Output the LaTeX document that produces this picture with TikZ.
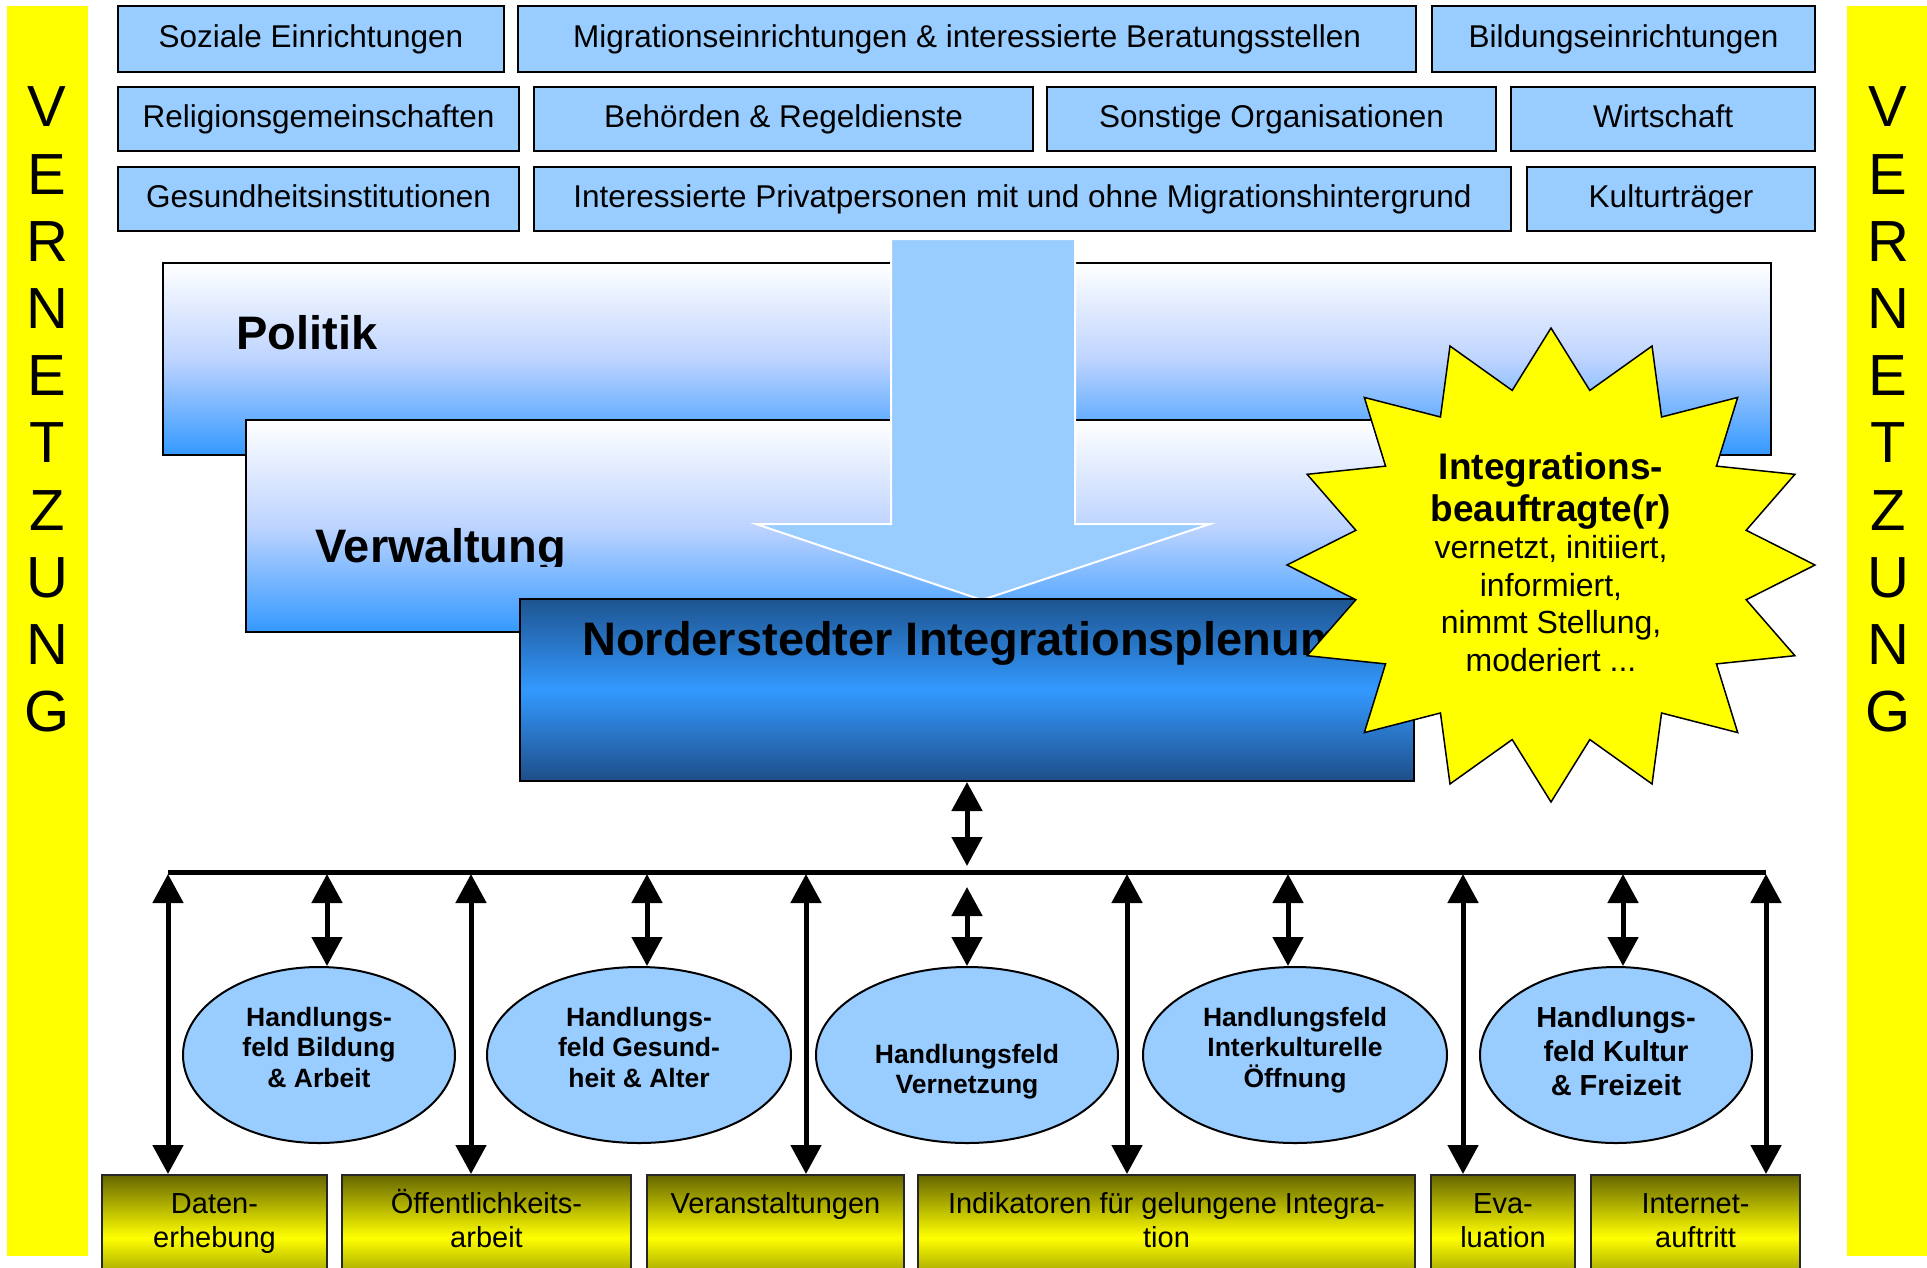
\documentclass[tikz,border=0pt]{standalone}
\usepackage{fontspec}
\setmainfont{Liberation Sans}
\usetikzlibrary{shapes.geometric,arrows.meta,calc}
\definecolor{lblue}{RGB}{153,204,255}
\definecolor{vblue}{RGB}{51,153,255}
\definecolor{vmid}{RGB}{190,212,255}
\definecolor{ptop}{RGB}{30,84,144}
\definecolor{pbot}{RGB}{30,78,136}
\definecolor{oliv}{RGB}{102,102,0}
\definecolor{yel}{RGB}{255,255,0}
\newcommand\myfl{\rule{0pt}{1em}}
\newcommand\sbold{\bfseries\fontsize{37}{42}\selectfont}
\newcommand\sreg{\mdseries\fontsize{32}{37.5}\selectfont}
\begin{document}
\begin{tikzpicture}[x=1pt,y=-1pt,
  topbox/.style={draw=black, line width=2.5pt, fill=lblue, inner sep=0pt,
    font=\fontsize{31.5}{36}\selectfont, text height=22.5pt, text depth=6.3pt},
  layer/.style={draw=black, line width=2.5pt, inner sep=0pt, top color=white, bottom color=vblue, middle color=vmid},
  bigtxt/.style={anchor=base west, inner sep=0pt, font=\bfseries\fontsize{47}{52}\selectfont},
  hfeld/.style={ellipse, draw=black, line width=2pt, fill=lblue, inner sep=0pt, minimum height=176pt},
  hftext/.style={align=center, inner sep=0pt, anchor=north, font=\bfseries\fontsize{26.5}{30.5}\selectfont},
  ybox/.style={draw=black!85, line width=2pt, inner sep=0pt, minimum height=125pt,
    top color=oliv, bottom color=oliv, middle color=yel},
  btext/.style={align=center, inner sep=0pt, anchor=north, font=\fontsize{29}{34}\selectfont},
  vlet/.style={inner sep=0pt, font=\fontsize{58}{60}\selectfont},
  dbl/.style={line width=5pt, arrows={Triangle[length=29pt,width=30pt]-Triangle[length=29pt,width=30pt]}}
]
\useasboundingbox (0,0) rectangle (1927,1267);
\clip (0,0) rectangle (1927,1267);
\fill[white] (0,0) rectangle (1927,1267);

% side bars
\fill[yel] (7,6) rectangle (88,1256);
\fill[yel] (1847,6) rectangle (1927,1256);
\foreach \l [count=\i from 0] in {V,E,R,N,E,T,Z,U,N,G} {
  \node[vlet] (vl\i) at (47,{107+67.2*\i}) {\l};
  \node[vlet] (vr\i) at (1888,{107+67.2*\i}) {\l};
}

% top boxes
\node[topbox, minimum width=386pt, minimum height=66pt] (soz) at (311,39) {Soziale Einrichtungen};
\node[topbox, minimum width=898pt, minimum height=66pt] (mig) at (967,39) {Migrationseinrichtungen \& interessierte Beratungsstellen};
\node[topbox, minimum width=383pt, minimum height=66pt] (bild) at (1623.5,39) {Bildungseinrichtungen};
\node[topbox, minimum width=401pt, minimum height=64pt] (rel) at (318.5,119) {Religionsgemeinschaften};
\node[topbox, minimum width=499pt, minimum height=64pt] (beh) at (783.5,119) {Behörden \& Regeldienste};
\node[topbox, minimum width=449pt, minimum height=64pt] (son) at (1271.5,119) {Sonstige Organisationen};
\node[topbox, minimum width=304pt, minimum height=64pt] (wir) at (1663,119) {Wirtschaft};
\node[topbox, minimum width=401pt, minimum height=64pt] (ges) at (318.5,199) {Gesundheitsinstitutionen};
\node[topbox, minimum width=977pt, minimum height=64pt] (pri) at (1022.5,199) {Interessierte Privatpersonen mit und ohne Migrationshintergrund};
\node[topbox, minimum width=288pt, minimum height=64pt] (kul) at (1671,199) {Kulturträger};

% layers
\node[layer, minimum width=1608pt, minimum height=192pt] (pol) at (967,359) {};
\node[bigtxt] (poltxt) at (236,349) {Politik};
\node[layer, minimum width=1204pt, minimum height=212pt] (verw) at (848,526) {};
\begin{scope}
  \clip (246,420) rectangle (1450,566);
  \node[bigtxt] (verwtxt) at (315,562) {Verwaltung};
\end{scope}

% big down arrow
\filldraw[fill=lblue, draw=white, line width=2pt]
  (891,239) -- (1075,239) -- (1075,524) -- (1210,524) -- (982,600) -- (756,524) -- (891,524) -- cycle;

% plenum
\node[draw=black, line width=2pt, inner sep=0pt, minimum width=894pt, minimum height=182pt,
  top color=ptop, bottom color=pbot, middle color=vblue] (plen) at (967,690) {};
\node[bigtxt] (plentxt) at (582,655) {Norderstedter Integrationsplenum};

% star
\coordinate (sc) at (1551,565);
\filldraw[fill=yel, draw=black, line width=1.5pt, line join=miter]
  ($(sc)+(0,-237)$)
  \foreach \k in {0,...,15} {
    -- ($(sc)+({199*cos(78.75-22.5*\k)},{-178*sin(78.75-22.5*\k)})$)
    -- ($(sc)+({264*cos(67.5-22.5*\k)},{-237*sin(67.5-22.5*\k)})$)
  } -- cycle;
\node[anchor=north, align=center, inner sep=0pt, font=\sreg] (ibtxt) at (1551,442)
  {\sbold\myfl Integrations-\\[4.5pt]\sbold beauftragte(r)\\\sreg vernetzt, initiiert,\\\sreg informiert,\\\sreg nimmt Stellung,\\\sreg moderiert ...};

% ellipses
\node[hfeld, minimum width=272pt] (e1) at (319,1055) {};
\node[hfeld, minimum width=304pt] (e2) at (639,1055) {};
\node[hfeld, minimum width=302pt] (e3) at (967,1055) {};
\node[hfeld, minimum width=304pt] (e4) at (1295,1055) {};
\node[hfeld, minimum width=272pt] (e5) at (1616,1055) {};
\node[hftext] (e1t) at (319,999.5) {\myfl Handlungs-\\feld Bildung\\\& Arbeit};
\node[hftext] (e2t) at (639,999.5) {\myfl Handlungs-\\feld Gesund-\\heit \& Alter};
\node[hftext] (e3t) at (967,1036.5) {\myfl Handlungsfeld\\Vernetzung};
\node[hftext] (e4t) at (1295,999.5) {\myfl Handlungsfeld\\Interkulturelle\\Öffnung};
\node[hftext, font=\bfseries\fontsize{29}{34}\selectfont] (e5t) at (1616,998) {\myfl Handlungs-\\feld Kultur\\\& Freizeit};

% bottom boxes
\node[ybox, minimum width=225pt] (dat) at (214.5,1237.5) {};
\node[ybox, minimum width=289pt] (oef) at (486.5,1237.5) {};
\node[ybox, minimum width=257pt] (ver) at (775.5,1237.5) {};
\node[ybox, minimum width=497pt] (ind) at (1166.5,1237.5) {};
\node[ybox, minimum width=144pt] (eva) at (1503,1237.5) {};
\node[ybox, minimum width=209pt] (int) at (1695.5,1237.5) {};
\node[btext] (datt) at (214.5,1184) {\myfl Daten-\\erhebung};
\node[btext] (oeft) at (486.5,1184) {\myfl Öffentlichkeits-\\arbeit};
\node[btext] (vert) at (775.5,1184) {\myfl Veranstaltungen};
\node[btext] (indt) at (1166.5,1184) {\myfl Indikatoren für gelungene Integra-\\tion};
\node[btext] (evat) at (1503,1184) {\myfl Eva-\\luation};
\node[btext] (intt) at (1695.5,1184) {\myfl Internet-\\auftritt};

% bus
\coordinate (busL) at (168,872);
\coordinate (busR) at (1766,872);
\draw[line width=5pt] (busL) -- (busR);
\coordinate (pb) at (967,866);
\draw[dbl] (plen.south) -- (pb);

% long arrows to bottom boxes
\coordinate (l1) at (168,874);
\coordinate (l2) at (471,874);
\coordinate (l3) at (806,874);
\coordinate (l4) at (1127,874);
\coordinate (l5) at (1463,874);
\coordinate (l6) at (1766,874);
\draw[dbl] (l1) -- (l1 |- dat.north);
\draw[dbl] (l2) -- (l2 |- oef.north);
\draw[dbl] (l3) -- (l3 |- ver.north);
\draw[dbl] (l4) -- (l4 |- ind.north);
\draw[dbl] (l5) -- (l5 |- eva.north);
\draw[dbl] (l6) -- (l6 |- int.north);

% short arrows to ellipses
\coordinate (s1) at (327,874);
\coordinate (s2) at (647,874);
\coordinate (s3) at (967,887);
\coordinate (s4) at (1288,874);
\coordinate (s5) at (1623,874);
\draw[dbl] (s1) -- (s1 |- e1.north);
\draw[dbl] (s2) -- (s2 |- e2.north);
\draw[dbl] (s3) -- (s3 |- e3.north);
\draw[dbl] (s4) -- (s4 |- e4.north);
\draw[dbl] (s5) -- (s5 |- e5.north);
\end{tikzpicture}
\end{document}
